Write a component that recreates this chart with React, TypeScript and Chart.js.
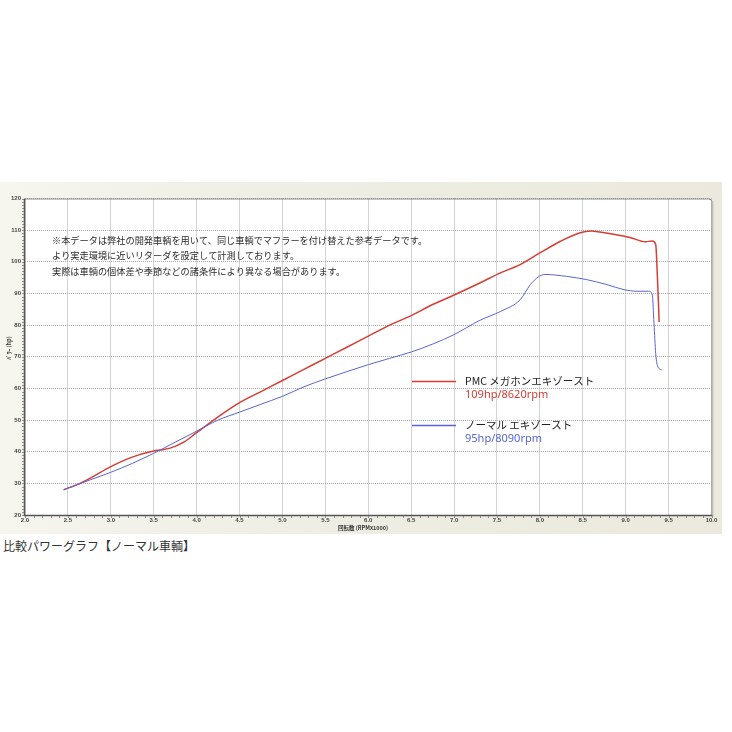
import React, { useEffect, useRef } from "react";
import { Chart, registerables } from "chart.js";

Chart.register(...registerables);

const rpmPMC = [2.45, 2.6, 2.75, 3.0, 3.25, 3.5, 3.6, 3.7, 3.85, 4.0, 4.25, 4.5, 4.75, 5.0, 5.25, 5.5, 5.75, 6.0, 6.25, 6.5, 6.75, 7.0, 7.3, 7.54, 7.77, 8.0, 8.24, 8.47, 8.6, 8.7, 8.86, 9.05, 9.23, 9.31, 9.35, 9.37, 9.39];
const hpPMC = [28, 29.5, 31.5, 35.3, 38.3, 40.2, 40.6, 41.2, 43, 46, 51, 55.5, 59, 62.5, 66, 69.5, 73, 76.5, 80, 83, 86.5, 89.5, 93.3, 96.5, 99.1, 102.8, 106.5, 109.2, 109.7, 109.4, 108.7, 107.7, 106.3, 106.6, 105.5, 95, 81];

const rpmStd = [2.45, 2.75, 3.0, 3.25, 3.5, 3.75, 4.0, 4.25, 4.5, 4.75, 5.0, 5.25, 5.5, 5.75, 6.0, 6.25, 6.5, 6.75, 7.0, 7.3, 7.54, 7.77, 7.89, 7.98, 8.06, 8.31, 8.54, 8.78, 8.98, 9.13, 9.27, 9.31, 9.33, 9.35, 9.37, 9.42];
const hpStd = [28, 31, 33.5, 36.3, 39.5, 43, 46.5, 50, 52.5, 55, 57.5, 60.5, 63, 65.3, 67.5, 69.5, 71.5, 74, 77, 81.5, 84.3, 88, 92.8, 95.2, 96, 95.4, 94.4, 92.8, 91.2, 90.7, 90.7, 89.6, 80.5, 71, 67.2, 65.8];

const xMin = 2.0;
const xMax = 10.0;
const yMin = 20;
const yMax = 120;

const noteLines = [
  "※本データは弊社の開発車輌を用いて、同じ車輌でマフラーを付け替えた参考データです。",
  "より実走環境に近いリターダを設定して計測しております。",
  "実際は車輌の個体差や季節などの諸条件により異なる場合があります。",
];
const legendNames = ["PMC メガホンエキゾースト", "ノーマル エキゾースト"];
const legendSubs = ["109hp/8620rpm", "95hp/8090rpm"];
const yTitle = "ﾊﾟﾜｰ (hp)";
const xTitle = "回転数 (RPMx1000)";
const caption = "比較パワーグラフ【ノーマル車輌】";

const RED = "#d63d35";
const BLUE = "#5a66d0";
const JP = "'Noto Sans CJK JP', 'Noto Sans', sans-serif";

const bgPlugin = {
  id: "bg",
  beforeDraw(chart: any) {
    const { ctx, chartArea } = chart;
    ctx.save();
    ctx.fillStyle = "#ffffff";
    ctx.fillRect(chartArea.left, chartArea.top, chartArea.right - chartArea.left, chartArea.bottom - chartArea.top);
    ctx.restore();
  },
};

const overlayPlugin = {
  id: "overlay",
  afterDraw(chart: any) {
    const { ctx, chartArea } = chart;
    const { left, right, top, bottom } = chartArea;
    ctx.save();
    // frame
    ctx.strokeStyle = "#8a8a8a";
    ctx.lineWidth = 1;
    ctx.beginPath();
    ctx.moveTo(left, top + 0.5);
    ctx.lineTo(right - 3, top + 0.5);
    ctx.quadraticCurveTo(right + 0.5, top + 0.5, right + 0.5, top + 3);
    ctx.lineTo(right + 0.5, bottom);
    ctx.stroke();
    ctx.strokeStyle = "#c8c6ba";
    ctx.beginPath();
    ctx.moveTo(right + 1.5, top + 3);
    ctx.lineTo(right + 1.5, bottom + 1);
    ctx.stroke();
    ctx.strokeStyle = "#555";
    ctx.lineWidth = 1.5;
    ctx.beginPath();
    ctx.moveTo(left - 0.5, top);
    ctx.lineTo(left - 0.5, bottom + 0.5);
    ctx.lineTo(right + 1, bottom + 0.5);
    ctx.stroke();
    // minor ticks
    const xs = chart.scales.x;
    const ys = chart.scales.y;
    ctx.strokeStyle = "#777";
    ctx.lineWidth = 0.8;
    ctx.beginPath();
    for (let v = yMin; v <= yMax; v += 1) {
      const py = Math.round(ys.getPixelForValue(v)) + 0.5;
      ctx.moveTo(left - 3, py);
      ctx.lineTo(left - 1, py);
    }
    for (let i = 0; i <= (xMax - xMin) * 10; i++) {
      const px = Math.round(xs.getPixelForValue(xMin + i / 10)) + 0.5;
      ctx.moveTo(px, bottom + 1);
      ctx.lineTo(px, bottom + 3);
    }
    ctx.stroke();

    // notes
    ctx.fillStyle = "#2a2a2a";
    ctx.font = `9.2px ${JP}`;
    ctx.textBaseline = "middle";
    ctx.textAlign = "left";
    const noteY = [241, 256, 272];
    noteLines.forEach((t, i) => ctx.fillText(t, 52, noteY[i] - 182));

    // legend
    const legY = [381, 425];
    const colors = [RED, BLUE];
    legendNames.forEach((name, i) => {
      const y = legY[i] - 182;
      ctx.strokeStyle = colors[i];
      ctx.lineWidth = 1.3;
      ctx.beginPath();
      ctx.moveTo(412, y + 0.5);
      ctx.lineTo(456, y + 0.5);
      ctx.stroke();
      ctx.fillStyle = "#222";
      ctx.font = `10.5px ${JP}`;
      ctx.fillText(name, 465, y);
      ctx.fillStyle = colors[i];
      ctx.font = `11px 'Noto Sans', sans-serif`;
      ctx.fillText(legendSubs[i], 465, y + 14);
    });

    // axis titles
    ctx.fillStyle = "#333";
    ctx.font = `bold 5.5px ${JP}`;
    ctx.textAlign = "center";
    ctx.fillText(xTitle, 363, 528 - 182);
    ctx.save();
    ctx.translate(9, 348 - 182);
    ctx.rotate(-Math.PI / 2);
    ctx.fillText(yTitle, 0, 0);
    ctx.restore();
    ctx.restore();
  },
};

export default function App() {
  const ref = useRef<HTMLCanvasElement | null>(null);
  useEffect(() => {
    if (!ref.current) return;
    const chart = new Chart(ref.current, {
      type: "line",
      data: {
        datasets: [
          {
            label: legendNames[1],
            data: rpmStd.map((x, i) => ({ x, y: hpStd[i] })),
            borderColor: BLUE,
            borderWidth: 1,
            pointRadius: 0,
            cubicInterpolationMode: "monotone",
          },
          {
            label: legendNames[0],
            data: rpmPMC.map((x, i) => ({ x, y: hpPMC[i] })),
            borderColor: RED,
            borderWidth: 1.5,
            pointRadius: 0,
            cubicInterpolationMode: "monotone",
          },
        ],
      },
      options: {
        responsive: false,
        animation: false,
        devicePixelRatio: 1,
        layout: { padding: { left: 0, top: 16.5, right: 10.5, bottom: 0 } },
        plugins: { legend: { display: false }, tooltip: { enabled: false } },
        scales: {
          x: {
            type: "linear",
            min: xMin,
            max: xMax,
            afterFit: (s: any) => {
              s.height = 19;
            },
            ticks: {
              stepSize: 0.5,
              padding: 2,
              color: "#444",
              font: { size: 6, weight: "bold", family: "'Liberation Sans', sans-serif" },
              callback: (v: any) => Number(v).toFixed(1),
              maxRotation: 0,
              autoSkip: false,
            },
            grid: { color: "#a9a9a9", lineWidth: 1, drawTicks: false },
            border: { display: false, dash: [1, 1] },
          },
          y: {
            min: yMin,
            max: yMax,
            afterFit: (s: any) => {
              s.width = 25;
            },
            ticks: {
              stepSize: 10,
              padding: 4,
              color: "#444",
              font: { size: 6, weight: "bold", family: "'Liberation Sans', sans-serif" },
            },
            grid: { color: "#a9a9a9", lineWidth: 1, drawTicks: false },
            border: { display: false, dash: [1, 1] },
          },
        },
      },
      plugins: [bgPlugin, overlayPlugin],
    } as any);
    return () => chart.destroy();
  }, []);

  return (
    <div style={{ position: "absolute", left: 0, top: 0, width: 732, height: 732, background: "#fff", overflow: "hidden" }}>
      <div
        style={{
          position: "absolute",
          left: 0,
          top: 182,
          width: 722,
          height: 352,
          background: "linear-gradient(90deg, #f6f5ee 0%, #efeee4 40%, #ebe9dd 100%)",
        }}
      />
      <canvas ref={ref} width={722} height={352} style={{ position: "absolute", left: 0, top: 182, width: 722, height: 352 }} />
      <div
        style={{
          position: "absolute",
          left: 3,
          top: 538,
          fontSize: 12,
          lineHeight: "16px",
          color: "#333",
          fontFamily: JP,
          whiteSpace: "nowrap",
        }}
      >
        {caption}
      </div>
    </div>
  );
}
